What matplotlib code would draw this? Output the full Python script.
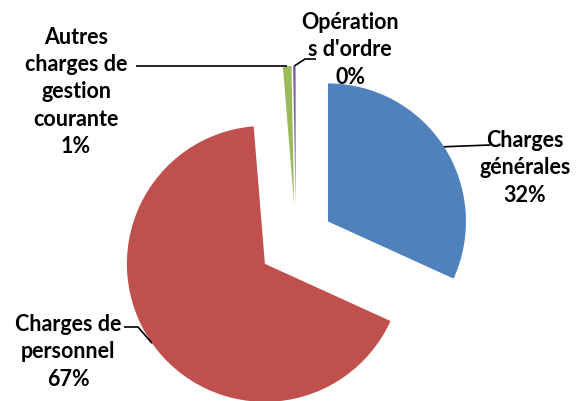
import numpy as np
import matplotlib.pyplot as plt

labels = ['Charges\ngénérales', 'Charges de\npersonnel', 'Autres\ncharges de\ngestion\ncourante', 'Opération\ns d\'ordre']
values = [31.8, 66.9, 1.0, 0.3]
colors = ['#4F81BD', '#C0504D', '#9BBB59', '#8064A2']


def main():
    fig = plt.figure(figsize=(5.83, 4.01), dpi=100)
    ax = fig.add_axes([0, 0, 1, 1])

    # explode is in data units here (pixels)
    wedges, _ = ax.pie(values, colors=colors, startangle=90, counterclock=False,
                       explode=[38] * len(values), center=(296, 159), radius=138,
                       wedgeprops={'linewidth': 0})
    ax.set_xlim(0, 583)
    ax.set_ylim(0, 401)
    ax.set_aspect('equal')
    ax.axis('off')

    total = sum(values)
    # text position, elbow of leader line, end of leader line
    layout = [
        ((525, 233), None, (490, 256)),
        ((68, 49), (138, 74), (124, 74)),
        ((76, 309), None, (136, None)),
        ((350, 351), (305, 342), (316, 342)),
    ]
    for w, lab, v, (tpos, elbow, end) in zip(wedges, labels, values, layout):
        ang = np.deg2rad((w.theta1 + w.theta2) / 2)
        cx, cy = w.center
        px, py = cx + w.r * np.cos(ang), cy + w.r * np.sin(ang)
        ex, ey = end
        if ey is None:
            ey = py
        xs, ys = [px], [py]
        if elbow is not None:
            xs.append(elbow[0]); ys.append(elbow[1])
        xs.append(ex); ys.append(ey)
        ax.plot(xs, ys, color='black', lw=1.2, solid_capstyle='butt')
        txt = '%s\n%d%%' % (lab, round(v / total * 100))
        ax.text(tpos[0], tpos[1], txt, ha='center', va='center', fontsize=15.5,
                fontweight='bold', family='Lato', linespacing=1.36)

    fig.savefig('out.png', dpi=100)


if __name__ == '__main__':
    main()
